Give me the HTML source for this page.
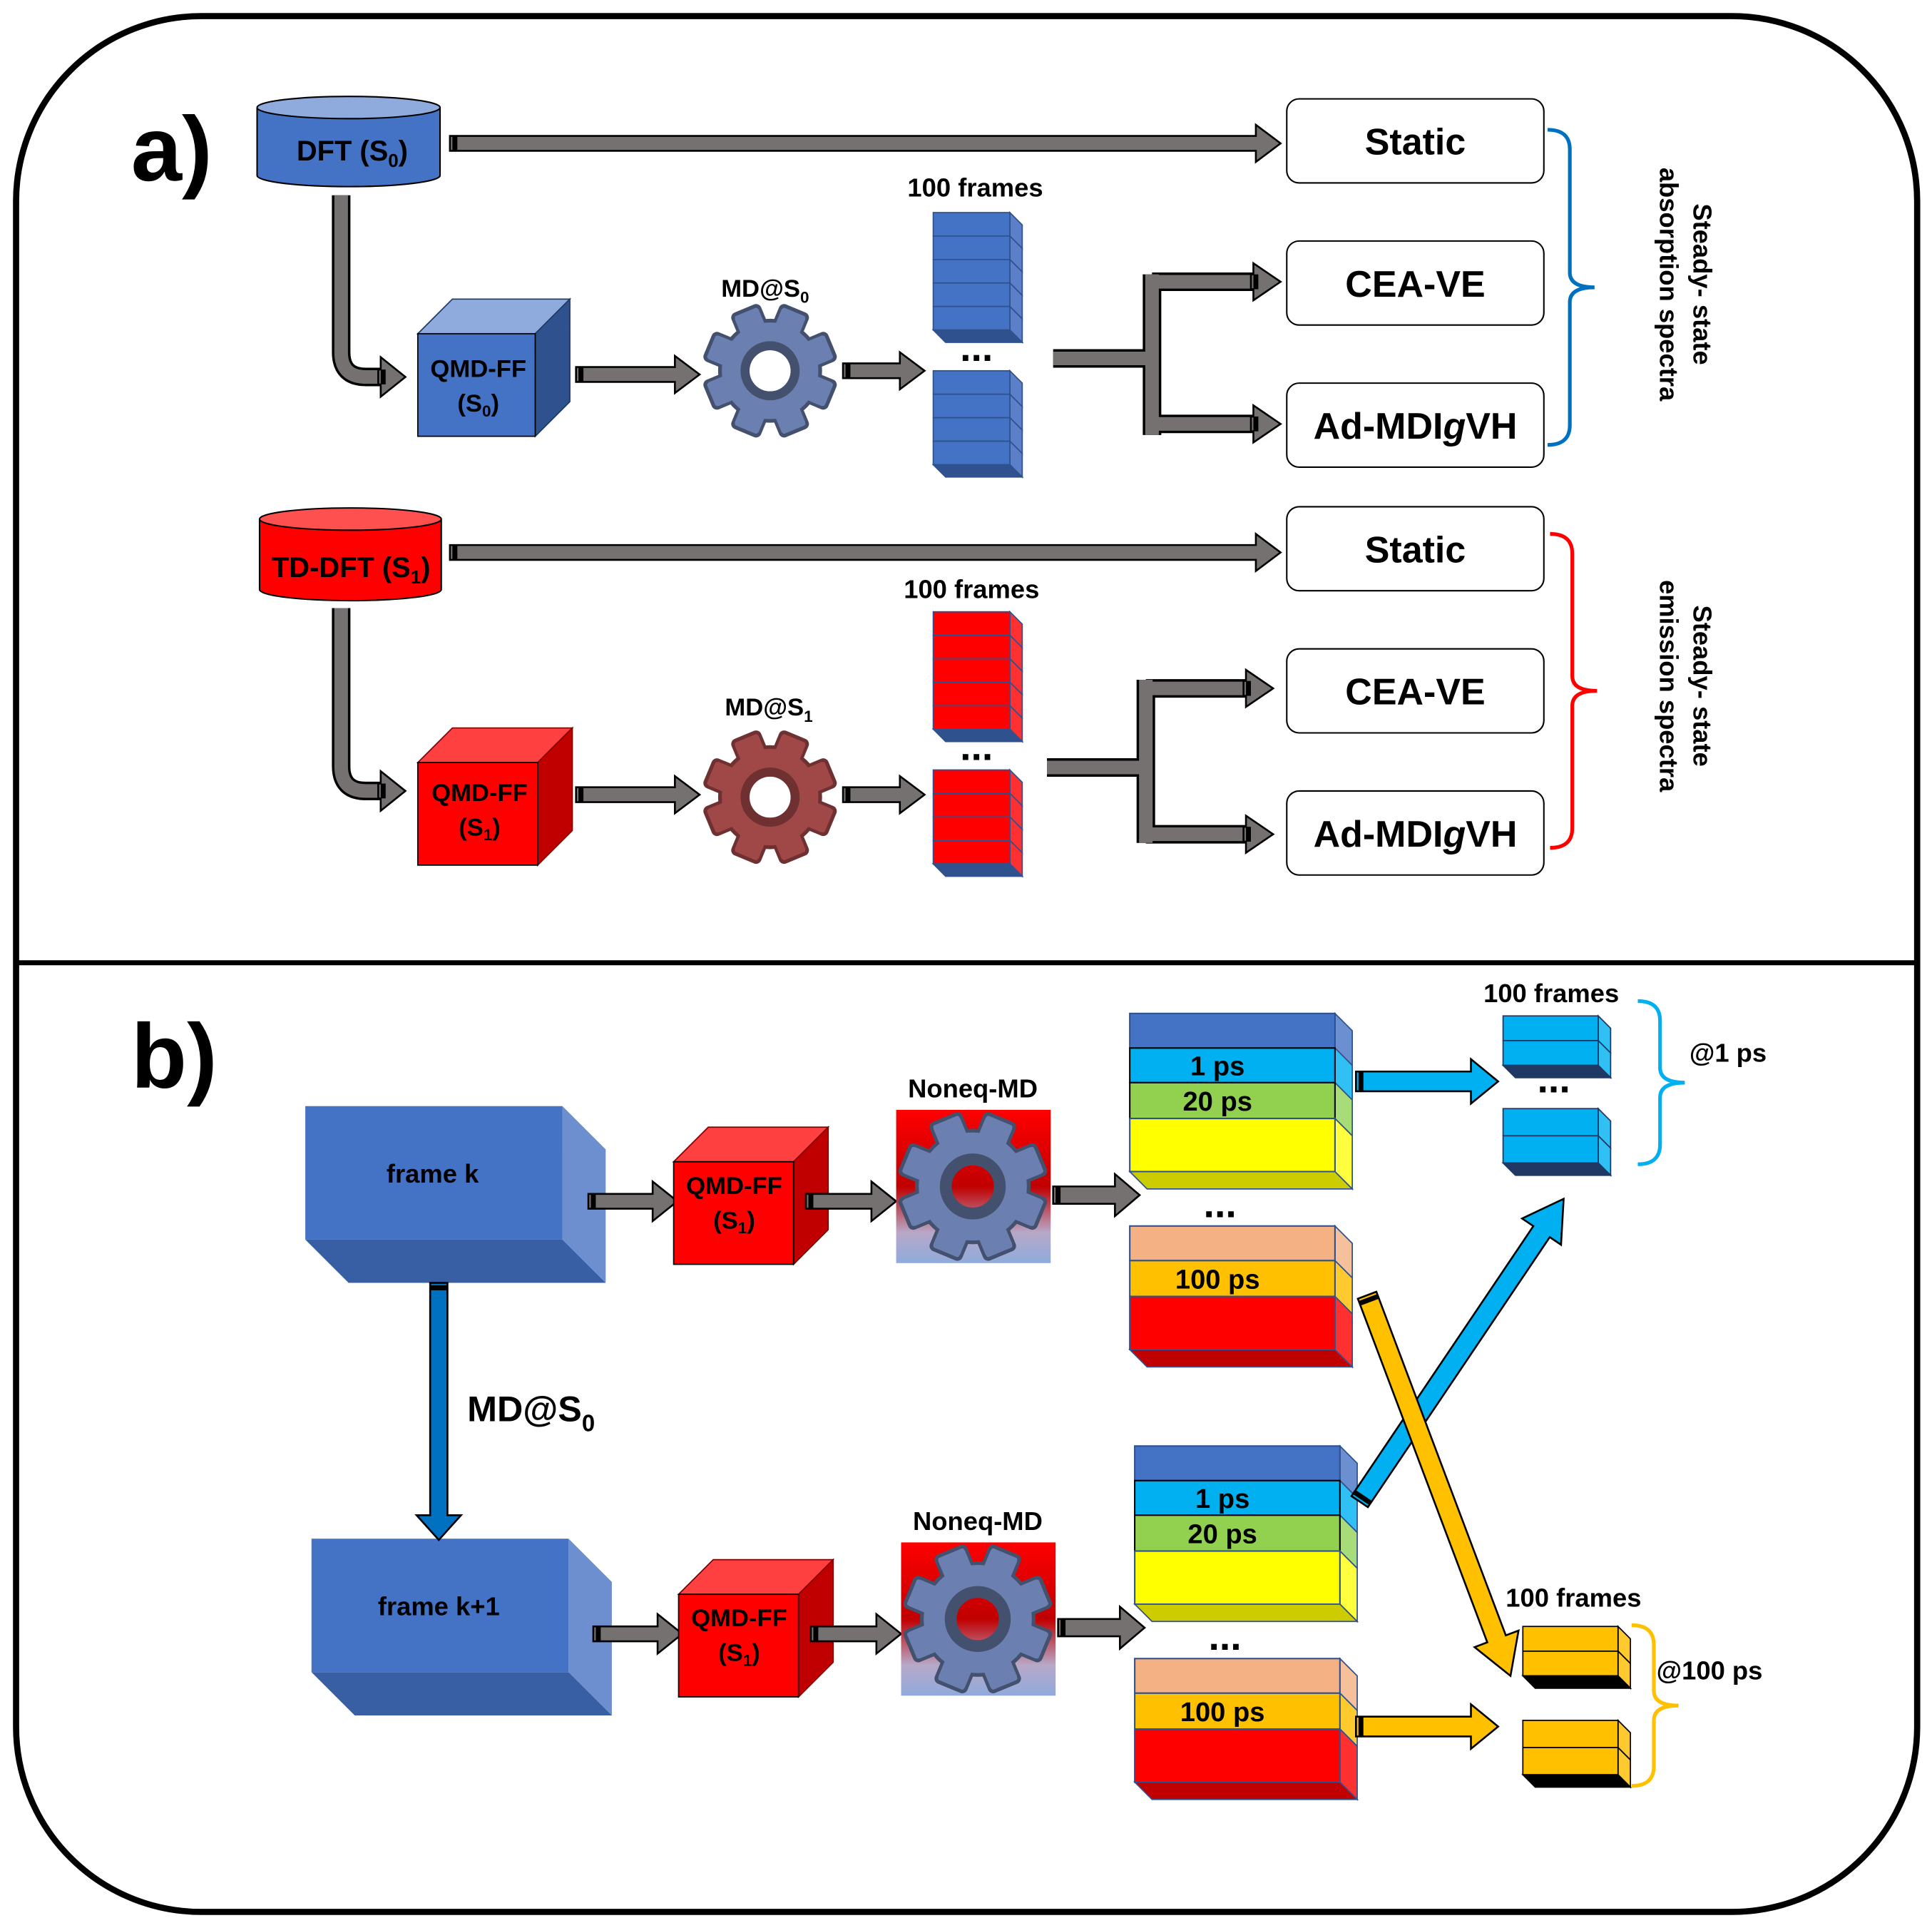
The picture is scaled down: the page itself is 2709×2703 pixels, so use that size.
<!DOCTYPE html>
<html><head><meta charset="utf-8"><style>
html,body{margin:0;padding:0;background:#fff;}
svg{display:block;}
text{font-family:"Liberation Sans",Arial,sans-serif;font-weight:bold;fill:#000;}
</style></head><body>
<svg id="s" width="2709" height="2703" viewBox="0 0 1563 1560" preserveAspectRatio="none" xmlns="http://www.w3.org/2000/svg">
<defs>
<linearGradient id="gbg" x1="0" y1="0" x2="0" y2="1">
<stop offset="0" stop-color="#ff0000"/><stop offset="0.5" stop-color="#c00000"/><stop offset="0.8" stop-color="#b8a8c8"/><stop offset="1" stop-color="#8faadc"/>
</linearGradient>
</defs>
<rect x="13" y="13" width="1538" height="1534" rx="150" ry="150" fill="#fff" stroke="#000" stroke-width="5"/>
<line x1="13" y1="779" x2="1551" y2="779" stroke="#000" stroke-width="4"/>
<text x="106" y="146" font-size="74">a)</text>
<text x="106" y="880" font-size="74">b)</text>
<g id="g"></g>
</svg>
<script>
const G=document.getElementById('g');let h='';
function arrow(x1,y1,x2,y2,sw,hw,hl,fill){const L=Math.hypot(x2-x1,y2-y1),a=Math.atan2(y2-y1,x2-x1)*180/Math.PI;
const p=[[0,-sw/2],[L-hl,-sw/2],[L-hl,-hw/2],[L,0],[L-hl,hw/2],[L-hl,sw/2],[0,sw/2]].map(q=>q.join(',')).join(' ');
h+=`<g transform="translate(${x1},${y1}) rotate(${a})"><polygon points="${p}" fill="${fill}" stroke="#000" stroke-width="1.5"/><rect x="2" y="${-sw/2}" width="4" height="${sw}" fill="#000"/></g>`;}
function gpath(d){h+=`<path d="${d}" fill="none" stroke="#000" stroke-width="15"/><path d="${d}" fill="none" stroke="#767171" stroke-width="11"/>`;}
function box(x,y,t,extra){h+=`<rect x="${x}" y="${y}" width="208" height="68" rx="10" fill="#fff" stroke="#000" stroke-width="1.2"/><text x="${x+104}" y="${y+45}" font-size="30" text-anchor="middle">${t}</text>`;}
function cyl(x,y,w,hh,c,ct,t){const ry=9;h+=`<path d="M${x},${y} v${hh} a${w/2},${ry} 0 0 0 ${w},0 v${-hh}" fill="${c}" stroke="#000" stroke-width="1.2"/><ellipse cx="${x+w/2}" cy="${y}" rx="${w/2}" ry="${ry}" fill="${ct}" stroke="#000" stroke-width="1.2"/>`;h+=t;}
function cube(x,y,w,hh,d,f,top,side,st){h+=`<polygon points="${x},${y} ${x+d},${y-d} ${x+w+d},${y-d} ${x+w},${y}" fill="${top}" stroke="${st}"/><polygon points="${x+w},${y} ${x+w+d},${y-d} ${x+w+d},${y+hh-d} ${x+w},${y+hh}" fill="${side}" stroke="${st}"/><rect x="${x}" y="${y}" width="${w}" height="${hh}" fill="${f}" stroke="#000" stroke-width="1"/>`;}
function gear(cx,cy,r,body,dark,hole){let s=`<g transform="translate(${cx},${cy})">`;
for(let i=0;i<8;i++)s+=`<rect x="${-r*0.22}" y="${-r*1.02}" width="${r*0.44}" height="${r*0.5}" rx="3" fill="${body}" stroke="${dark}" stroke-width="3" transform="rotate(${i*45+22.5})"/>`;
s+=`<path fill-rule="evenodd" d="M${-r*0.78},0 a${r*0.78},${r*0.78} 0 1 0 ${r*1.56},0 a${r*0.78},${r*0.78} 0 1 0 ${-r*1.56},0 Z M${-r*0.32},0 a${r*0.32},${r*0.32} 0 1 0 ${r*0.64},0 a${r*0.32},${r*0.32} 0 1 0 ${-r*0.64},0 Z" fill="${body}" stroke="${dark}" stroke-width="3"/>`;
for(let i=0;i<8;i++)s+=`<rect x="${-r*0.2}" y="${-r*0.98}" width="${r*0.4}" height="${r*0.5}" rx="2" fill="${body}" transform="rotate(${i*45+22.5})"/>`;
if(hole!=='transparent')s+=`<circle r="${r*0.32}" fill="${hole}"/>`;
s+=`<circle r="${r*0.39}" fill="none" stroke="${dark}" stroke-width="${r*0.14}"/></g>`;h+=s;}
function slabs(x,y,n,sh,w,d,f,side,st){for(let i=0;i<n;i++){const yy=y+i*sh;h+=`<polygon points="${x+w},${yy} ${x+w+d},${yy+d} ${x+w+d},${yy+sh+d} ${x+w},${yy+sh}" fill="${side}" stroke="${st}"/><rect x="${x}" y="${yy}" width="${w}" height="${sh}" fill="${f}" stroke="${st}"/>`;}
const yb=y+n*sh;h+=`<polygon points="${x},${yb} ${x+w},${yb} ${x+w+d},${yb+d} ${x+d},${yb+d}" fill="${st}" stroke="${st}"/>`;}
function layered(x,y,w,d,L){let yy=y;for(const l of L){h+=`<polygon points="${x+w},${yy} ${x+w+d},${yy+d} ${x+w+d},${yy+l.h+d} ${x+w},${yy+l.h}" fill="${l.s}" stroke="#2f528f" stroke-width="1"/><rect x="${x}" y="${yy}" width="${w}" height="${l.h}" fill="${l.c}" stroke="${l.b||'#2f528f'}" stroke-width="1.2"/>`;
if(l.t)h+=`<text x="${x+w/2-12}" y="${yy+l.h/2+8}" font-size="22" text-anchor="middle">${l.t}</text>`;yy+=l.h;}
const last=L[L.length-1];h+=`<polygon points="${x},${yy} ${x+w},${yy} ${x+w+d},${yy+d} ${x+d},${yy+d}" fill="${last.bt}" stroke="#2f528f"/>`;}
function brace(x,y1,y2,c){const m=(y1+y2)/2,xm=x+38;h+=`<path d="M${x},${y1} Q${x+18},${y1} ${x+18},${y1+16} L${x+18},${m-12} Q${x+18},${m} ${xm},${m} Q${x+18},${m} ${x+18},${m+12} L${x+18},${y2-16} Q${x+18},${y2} ${x},${y2}" fill="none" stroke="${c}" stroke-width="3"/>`;}
const GR='#767171';
cyl(208,87,148,55,'#4472c4','#8faadc',`<text x="285" y="130" font-size="23" text-anchor="middle">DFT (S<tspan font-size="15" dy="5">0</tspan><tspan dy="-5">)</tspan></text>`);
arrow(364,116,1036,116,12,30,20,GR);
box(1041,80,'Static');box(1041,195,'CEA-VE');box(1041,310,'Ad-MDI<tspan font-style="italic">g</tspan>VH');
gpath('M276,158 V285 Q276,305 296,305 H310');arrow(306,305,328,305,12,32,20,GR);
cube(338,270,95,83,28,'#4472c4','#8faadc','#2f528f','#1f3864');
h+=`<text x="387" y="305" font-size="20" text-anchor="middle">QMD-FF</text><text x="387" y="333" font-size="20" text-anchor="middle">(S<tspan font-size="13" dy="4">0</tspan><tspan dy="-4">)</tspan></text>`;
arrow(466,303,566,303,12,30,20,GR);
gear(623,300,52,'#6b7fb0','#44516e','#fff');
h+=`<text x="619" y="240" font-size="20" text-anchor="middle">MD@S<tspan font-size="13" dy="5">0</tspan></text>`;
arrow(682,300,748,300,12,30,20,GR);
h+=`<text x="789" y="159" font-size="21" text-anchor="middle">100 frames</text><text x="790" y="292" font-size="32" text-anchor="middle">...</text>`;
slabs(755,172,5,19,62,10,'#4472c4','#5b7fc8','#2f528f');slabs(755,300,4,19,62,10,'#4472c4','#5b7fc8','#2f528f');
gpath('M852,290 H932 M932,222 V352 M932,228 H1015 M932,343 H1015');
arrow(1012,228,1036,228,12,30,22,GR);arrow(1012,343,1036,343,12,30,22,GR);
brace(1252,105,360,'#0070c0');
h+=`<g transform="translate(1370,230) rotate(90)"><text x="0" y="0" font-size="21" text-anchor="middle">Steady- state</text><text x="0" y="27" font-size="21" text-anchor="middle">absorption spectra</text></g>`;
cyl(210,420,147,57,'#ff0000','#ff5050',`<text x="284" y="467" font-size="23" text-anchor="middle">TD-DFT (S<tspan font-size="15" dy="5">1</tspan><tspan dy="-5">)</tspan></text>`);
arrow(364,447,1036,447,12,30,20,GR);
box(1041,410,'Static');box(1041,525,'CEA-VE');box(1041,640,'Ad-MDI<tspan font-style="italic">g</tspan>VH');
gpath('M276,492 V620 Q276,640 296,640 H310');arrow(306,640,328,640,12,32,20,GR);
cube(338,617,97,83,28,'#ff0000','#ff4040','#c00000','#800000');
h+=`<text x="388" y="648" font-size="20" text-anchor="middle">QMD-FF</text><text x="388" y="676" font-size="20" text-anchor="middle">(S<tspan font-size="13" dy="4">1</tspan><tspan dy="-4">)</tspan></text>`;
arrow(466,643,566,643,12,30,20,GR);
gear(623,645,52,'#a04848','#6e3030','#fff');
h+=`<text x="622" y="579" font-size="20" text-anchor="middle">MD@S<tspan font-size="13" dy="5">1</tspan></text>`;
arrow(682,643,748,643,12,30,20,GR);
h+=`<text x="786" y="484" font-size="21" text-anchor="middle">100 frames</text><text x="790" y="615" font-size="32" text-anchor="middle">...</text>`;
slabs(755,495,5,19,62,10,'#ff0000','#ff3030','#2f528f');slabs(755,623,4,19,62,10,'#ff0000','#ff3030','#2f528f');
gpath('M847,621 H927 M927,550 V682 M927,557 H1010 M927,675 H1010');
arrow(1006,557,1030,557,12,30,22,GR);arrow(1006,675,1030,675,12,30,22,GR);
brace(1254,432,686,'#ff0000');
h+=`<g transform="translate(1370,555) rotate(90)"><text x="0" y="0" font-size="21" text-anchor="middle">Steady- state</text><text x="0" y="27" font-size="21" text-anchor="middle">emission spectra</text></g>`;
function frame(x,y,t){h+=`<polygon points="${x+208},${y} ${x+243},${y+35} ${x+243},${y+143} ${x+208},${y+108}" fill="#6d8fd0"/><polygon points="${x},${y+108} ${x+208},${y+108} ${x+243},${y+143} ${x+35},${y+143}" fill="#385ea3"/><rect x="${x}" y="${y}" width="208" height="108" fill="#4472c4"/><text x="${x+103}" y="${y+62}" font-size="21" text-anchor="middle">${t}</text>`;}
frame(247,895,'frame k');frame(252,1245,'frame k+1');
arrow(355,1038,355,1246,14,36,20,'#0070c0');
h+=`<text x="378" y="1150" font-size="29">MD@S<tspan font-size="19" dy="8">0</tspan></text>`;
function row(dx,dy){
arrow(476+dx,972+dy,548+dx,972+dy,12,32,20,GR);
cube(545+dx,940+dy,97,83,28,'#ff0000','#ff4040','#c00000','#800000');
h+=`<text x="${594+dx}" y="${966+dy}" font-size="20" text-anchor="middle">QMD-FF</text><text x="${594+dx}" y="${994+dy}" font-size="20" text-anchor="middle">(S<tspan font-size="13" dy="4">1</tspan><tspan dy="-4">)</tspan></text>`;
arrow(652+dx,972+dy,725+dx,972+dy,12,32,20,GR);
h+=`<rect x="${725+dx}" y="${898+dy}" width="125" height="124" fill="url(#gbg)"/>`;
gear(787+dx,960+dy,58,'#6b7fb0','#44516e','transparent');
h+=`<text x="${787+dx}" y="${888+dy}" font-size="21" text-anchor="middle">Noneq-MD</text>`;
arrow(852+dx,967+dy,922+dx,967+dy,14,34,20,GR);
layered(914+dx,820+dy,166,14,[{h:28,c:'#4472c4',s:'#6b8fd0'},{h:28,c:'#00b0f0',s:'#30c0f4',t:'1 ps',b:'#000'},{h:29,c:'#92d050',s:'#a8dc78',t:'20 ps',b:'#000'},{h:43,c:'#ffff00',s:'#ffff40',bt:'#cccc00'}]);
h+=`<text x="${987+dx}" y="${985+dy}" font-size="32" text-anchor="middle">...</text>`;
layered(914+dx,992+dy,166,14,[{h:28,c:'#f4b183',s:'#f6c09a'},{h:29,c:'#ffc000',s:'#ffca30',t:'100 ps'},{h:43,c:'#ff0000',s:'#ff3030',bt:'#c00000'}]);}
row(0,0);row(4,350);
arrow(1097,875,1212,875,16,36,22,'#00b0f0');
slabs(1216,822,2,20,77,10,'#00b0f0','#30c0f4','#1f3864');slabs(1216,897,2,22,77,10,'#00b0f0','#30c0f4','#1f3864');
h+=`<text x="1257" y="884" font-size="32" text-anchor="middle">...</text><text x="1255" y="811" font-size="21" text-anchor="middle">100 frames</text><text x="1398" y="859" font-size="21" text-anchor="middle">@1 ps</text>`;
brace(1325,810,942,'#00b0f0');
arrow(1100,1215,1265,970,16,38,32,'#00b0f0');
arrow(1106,1048,1222,1356,16,38,32,'#ffc000');
arrow(1097,1397,1212,1397,16,36,22,'#ffc000');
slabs(1232,1316,2,20,77,10,'#ffc000','#ffca30','#000');slabs(1232,1392,2,22,77,10,'#ffc000','#ffca30','#000');
h+=`<text x="1273" y="1300" font-size="21" text-anchor="middle">100 frames</text><text x="1383" y="1359" font-size="21" text-anchor="middle">@100 ps</text>`;
brace(1320,1315,1445,'#ffc000');
G.innerHTML=h;
</script>
</body></html>
